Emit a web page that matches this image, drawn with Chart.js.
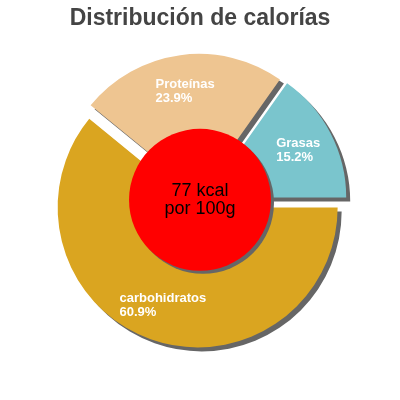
<!DOCTYPE html>
<html><head><meta charset="utf-8">
<script src="https://cdn.jsdelivr.net/npm/chart.js@4"></script>
<style>html,body{margin:0;padding:0;background:#fff}#w{width:400px;height:400px}</style>
</head><body><div id="w"><canvas id="c" width="400" height="400"></canvas></div>
<script>
const categories = ["carbohidratos", "Proteínas", "Grasas"];
const percentages = [60.9, 23.9, 15.2];
const sliceColors = ["#DAA520", "#EEC591", "#7AC5CD"];
const titleText = "Distribución de calorías";
const centerLines = ["77 kcal", "por 100g"];
const explode = 7;

const shadowPlugin = {
  id: 'shadow',
  beforeDatasetDraw(chart, args) {
    const ctx = chart.ctx;
    const meta = args.meta;
    ctx.save();
    ctx.shadowColor = '#666666';
    ctx.shadowOffsetX = 4;
    ctx.shadowOffsetY = 4;
    ctx.shadowBlur = 0;
    meta.data.forEach(a => {
      const mid = (a.startAngle + a.endAngle) / 2;
      ctx.save();
      ctx.translate(Math.cos(mid) * explode, Math.sin(mid) * explode);
      a.draw(ctx, chart.chartArea);
      ctx.restore();
    });
    ctx.restore();
    return false;
  },
  afterDatasetsDraw(chart) {
    const ctx = chart.ctx;
    const meta = chart.getDatasetMeta(0);
    const arc0 = meta.data[0];
    const cx = arc0.x, cy = arc0.y, R = arc0.outerRadius;
    // center circle
    ctx.save();
    ctx.shadowColor = '#666666';
    ctx.shadowOffsetX = 3;
    ctx.shadowOffsetY = 3;
    ctx.shadowBlur = 0;
    ctx.beginPath();
    ctx.arc(cx, cy - 1, R * 0.507, 0, Math.PI * 2);
    ctx.fillStyle = '#FF0000';
    ctx.fill();
    ctx.restore();
    ctx.save();
    ctx.fillStyle = '#000';
    ctx.font = '18px "Liberation Sans", Arial, sans-serif';
    ctx.textAlign = 'center';
    ctx.textBaseline = 'middle';
    ctx.fillText(centerLines[0], cx, cy - 10);
    ctx.fillText(centerLines[1], cx, cy + 8);
    ctx.restore();
    // labels
    ctx.save();
    ctx.font = 'bold 13px "Liberation Sans", Arial, sans-serif';
    ctx.fillStyle = '#fff';
    ctx.textBaseline = 'middle';
    ctx.textAlign = 'left';
    meta.data.forEach((a, i) => {
      const mid = (a.startAngle + a.endAngle) / 2;
      const r = R * 0.79;
      const px = a.x + Math.cos(mid) * r;
      const py = a.y + Math.sin(mid) * r;
      const l1 = categories[i], l2 = percentages[i].toFixed(1) + '%';
      const left = px - ctx.measureText(l1).width / 2;
      ctx.fillText(l1, left, py - 7);
      ctx.fillText(l2, left, py + 7);
    });
    ctx.restore();
  }
};

new Chart(document.getElementById('c'), {
  type: 'pie',
  data: {
    labels: categories,
    datasets: [{
      data: percentages,
      backgroundColor: sliceColors,
      borderWidth: 0,
      offset: 0,
      hoverOffset: 0
    }]
  },
  options: {
    responsive: false,
    animation: false,
    rotation: 90,
    layout: { padding: { left: 60, right: 60, top: 0, bottom: 59 } },
    events: [],
    plugins: {
      legend: { display: false },
      tooltip: { enabled: false },
      title: {
        display: true,
        text: titleText,
        color: '#444444',
        font: { family: '"Liberation Sans", Arial, sans-serif', size: 23, weight: 'bold' },
        padding: { top: 5, bottom: 28 }
      }
    }
  },
  plugins: [shadowPlugin]
});
</script>
</body></html>
